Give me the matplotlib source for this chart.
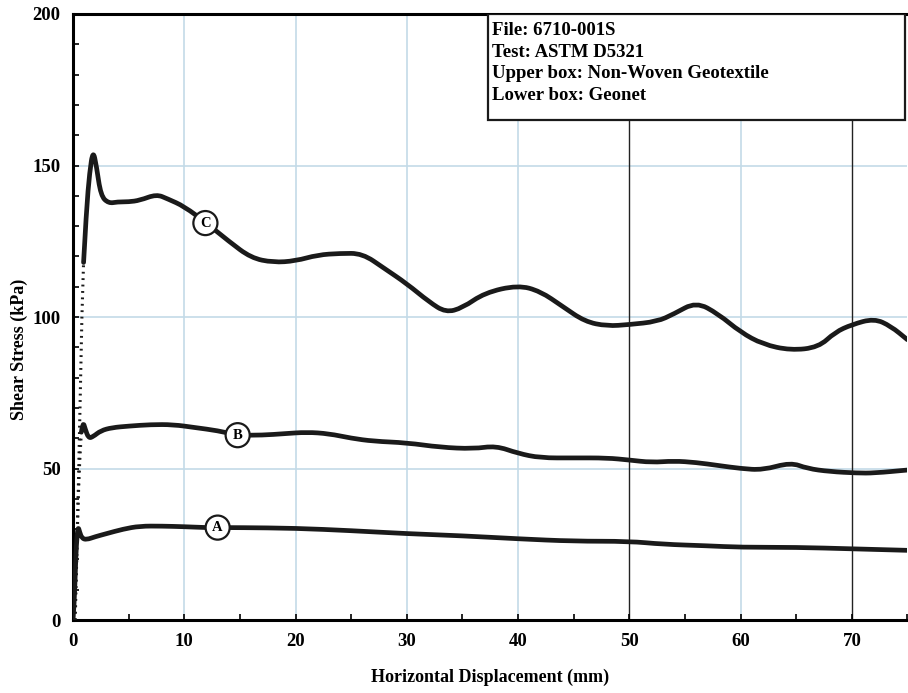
import numpy as np
import matplotlib.pyplot as plt
from matplotlib.patches import Rectangle, PathPatch
from matplotlib.path import Path

plt.rcParams["font.family"] = ["Liberation Serif", "DejaVu Serif"]
plt.rcParams["font.weight"] = "bold"

# curve C (upper, highest normal load)
c_dot_x = [0.2, 0.4, 0.6, 0.8, 0.95]
c_dot_y = [0, 30, 65, 100, 118]
c_x = [0.95, 1.2, 1.5, 1.8, 2.1, 2.5, 3.2, 4.0, 5.0, 6.0, 7.5, 8.5, 10.0, 12.0, 14.0, 16.0,
       18.0, 20.0, 22.0, 24.0, 26.0, 28.0, 30.0, 32.0, 33.5, 35.0, 37.0, 40.0, 42.0, 44.0,
       46.0, 48.0, 50.0, 52.5, 54.0, 56.0, 58.0, 60.0, 62.0, 64.5, 67.0, 68.5, 70.0, 72.0,
       73.5, 75.0]
c_y = [118, 135, 148, 155, 150, 140, 137.5, 138, 138, 138.5, 140.5, 139, 136.5, 131, 125, 119.5,
       118, 118.5, 120.5, 121, 121, 116, 111, 105, 101.5, 103, 108, 110.5, 108.5, 103.5,
       98.5, 97, 97.5, 98.5, 101, 105, 101, 95, 91, 89, 90, 95, 97.5, 99.5,
       97, 92.5]

# curve B
b_dot_x = [0.15, 0.3, 0.45, 0.6, 0.75]
b_dot_y = [0, 20, 38, 52, 62]
b_x = [0.75, 0.9, 1.1, 1.4, 1.8, 2.5, 3.5, 5.0, 7.0, 9.0, 11.0, 13.0, 14.8, 17.0, 19.0,
       21.0, 23.0, 25.0, 27.0, 30.0, 33.0, 36.0, 38.0, 40.0, 42.0, 45.0, 48.0, 50.0, 52.0,
       54.0, 56.0, 58.0, 60.0, 62.0, 64.5, 66.0, 68.0, 70.5, 72.0, 75.0]
b_y = [62, 65.5, 63, 60, 60.5, 62.5, 63.5, 64, 64.5, 64.5, 63.5, 62.5, 61, 61, 61.5,
       62, 61.5, 60, 59, 58.5, 57, 56.5, 57.5, 55, 53.5, 53.5, 53.5, 52.8, 52,
       52.5, 52, 51, 50, 49.5, 52, 50, 49, 48.5, 48.5, 49.5]

# curve A
a_x = [0.0, 0.1, 0.2, 0.3, 0.45, 0.6, 0.8, 1.2, 2.0, 3.0, 4.5, 6.0, 8.0, 10.0, 12.0, 13.0,
       15.0, 20.0, 25.0, 30.0, 35.0, 40.0, 45.0, 50.0, 53.0, 57.0, 60.0, 65.0, 70.0, 75.0]
a_y = [0, 5, 15, 25, 31, 29, 27, 26.5, 27.5, 28.5, 30, 31, 31, 30.8, 30.5, 30.5,
       30.5, 30.3, 29.5, 28.5, 27.8, 26.8, 26, 26, 25, 24.5, 24, 24, 23.5, 23]

# curve label positions
lab_text = ["A", "B", "C"]
lab_x = [13.0, 14.8, 11.9]
lab_y = [30.5, 61.0, 131.0]

info_lines = ["File: 6710-001S", "Test: ASTM D5321",
              "Upper box: Non-Woven Geotextile", "Lower box: Geonet"]


def smooth_line(ax, xs, ys, **kw):
    # quadratic bezier through segment midpoints, data points act as controls
    pts = np.column_stack([xs, ys])
    verts = [pts[0]]
    codes = [Path.MOVETO]
    for i in range(1, len(pts) - 1):
        mid = (pts[i] + pts[i + 1]) / 2
        verts += [pts[i], mid]
        codes += [Path.CURVE3, Path.CURVE3]
    verts.append(pts[-1])
    codes.append(Path.LINETO)
    ax.add_patch(PathPatch(Path(verts, codes), fill=False, **kw))


fig = plt.figure(figsize=(9.08, 6.93), dpi=100)
ax = fig.add_axes([0.0804, 0.1053, 0.919, 0.8745])

grid_c = "#c3dae8"
for gx in [10, 20, 30, 40, 60]:
    ax.axvline(gx, color=grid_c, lw=1.2, zorder=0)
for gy in [50, 100, 150]:
    ax.axhline(gy, color=grid_c, lw=1.2, zorder=0)
# dark scan lines under the info box
for gx in [50, 70]:
    ax.axvline(gx, ymax=0.825, color="#222222", lw=1.0, zorder=1)

lw = 3.4
ax.plot(c_dot_x, c_dot_y, color="#1a1a1a", lw=2.2, ls=(0, (0.6, 1.5)), zorder=3)
smooth_line(ax, c_x, c_y, ec="#1a1a1a", lw=lw, capstyle="round", joinstyle="round", zorder=3)
ax.plot(b_dot_x, b_dot_y, color="#1a1a1a", lw=2.2, ls=(0, (0.6, 1.5)), zorder=3)
smooth_line(ax, b_x, b_y, ec="#1a1a1a", lw=lw, capstyle="round", joinstyle="round", zorder=3)
smooth_line(ax, a_x, a_y, ec="#1a1a1a", lw=lw, capstyle="round", joinstyle="round", zorder=3)

for t, x, y in zip(lab_text, lab_x, lab_y):
    ax.text(x, y, t, ha="center", va="center", fontsize=10.5, zorder=5,
            bbox=dict(boxstyle="circle,pad=0.38", fc="white", ec="#1a1a1a", lw=1.6))

ax.set_xlim(0, 75)
ax.set_ylim(0, 200)
ax.set_xticks(range(0, 71, 10))
ax.set_xticks(range(0, 76, 5), minor=True)
ax.set_yticks(range(0, 201, 50))
ax.set_yticks(range(0, 201, 10), minor=True)
ax.tick_params(which="both", direction="in", length=4, width=1.2, labelsize=13.5, pad=9)
for lab in ax.get_xticklabels() + ax.get_yticklabels():
    lab.set_fontweight("bold")

for s in ["left", "bottom", "top"]:
    ax.spines[s].set_linewidth(2.2)
ax.spines["right"].set_visible(False)

ax.set_xlabel("Horizontal Displacement (mm)", fontsize=13, fontweight="bold", labelpad=14)
ax.set_ylabel("Shear Stress (kPa)", fontsize=13, fontweight="bold")
ax.yaxis.set_label_coords(-0.054, 0.446)

ax.add_patch(Rectangle((0.4976, 0.825), 0.499, 0.175, transform=ax.transAxes,
                       fc="white", ec="#1a1a1a", lw=1.6, zorder=6))
for i, line in enumerate(info_lines):
    ax.text(0.502, 0.972 - i * 0.0355, line, transform=ax.transAxes, fontsize=13.5,
            fontweight="bold", va="center", ha="left", zorder=7)

fig.savefig("out.png", dpi=100)
